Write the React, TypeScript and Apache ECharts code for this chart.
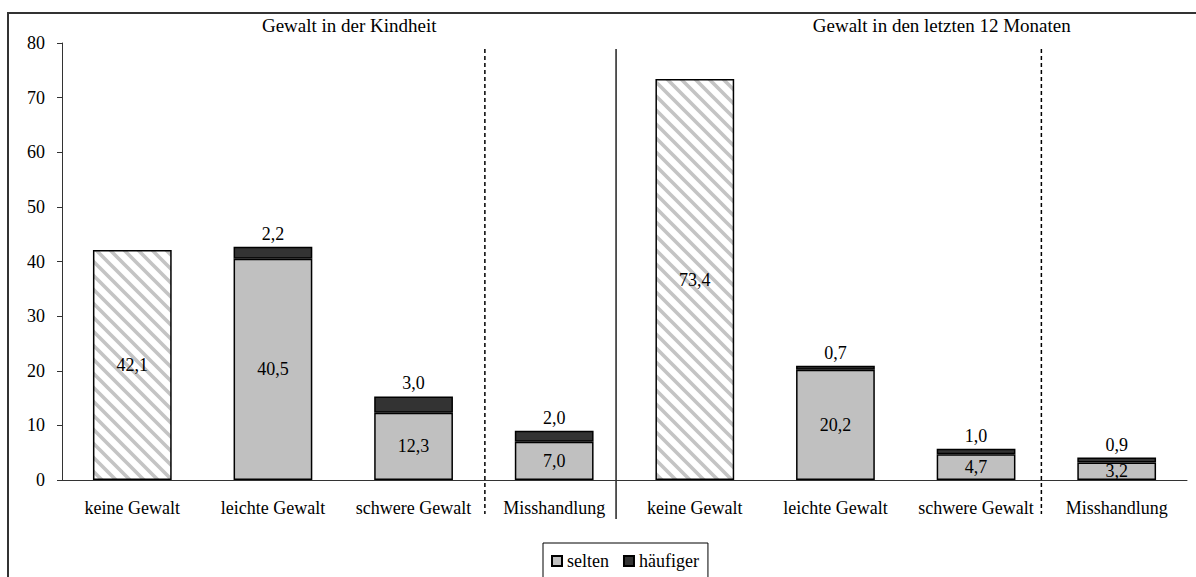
import React, { useEffect, useRef } from "react";
import * as echarts from "echarts";

const categories = [
  "keine Gewalt", "leichte Gewalt", "schwere Gewalt", "Misshandlung",
  "keine Gewalt", "leichte Gewalt", "schwere Gewalt", "Misshandlung",
];
const keineValues = [42.1, "-", "-", "-", 73.4, "-", "-", "-"];
const seltenValues = ["-", 40.5, 12.3, 7.0, "-", 20.2, 4.7, 3.2];
const haeufigerValues = ["-", 2.2, 3.0, 2.0, "-", 0.7, 1.0, 0.9];
const sectionTitles = ["Gewalt in der Kindheit", "Gewalt in den letzten 12 Monaten"];
const yTicks = { min: 0, max: 80, interval: 10 };

const FONT = "Liberation Serif";
const FS = 18;

const hatchSvg =
  "data:image/svg+xml;charset=utf-8," +
  encodeURIComponent(
    "<svg xmlns='http://www.w3.org/2000/svg' width='14' height='14'>" +
      "<rect width='14' height='14' fill='white'/>" +
      "<path d='M0,0 L14,14 M-2,12 L2,16 M12,-2 L16,2' stroke='#c4c4c4' stroke-width='3.6'/>" +
      "</svg>"
  );

const fmt = (p: any) => {
  const v = typeof p.value === "number" ? p.value : parseFloat(p.value);
  if (isNaN(v)) return "";
  return v.toFixed(1).replace(".", ",");
};

export default function App() {
  const ref = useRef<HTMLDivElement>(null);
  useEffect(() => {
    if (!ref.current) return;
    const chart = echarts.init(ref.current, null, { renderer: "svg" });
    const labelStyle = { fontFamily: FONT, fontSize: FS, color: "#000" };
    chart.setOption({
      animation: false,
      backgroundColor: "#fff",
      grid: { left: 62, right: 9, top: 43, bottom: 97, containLabel: false },
      legend: {
        data: [
          { name: "selten", icon: "rect" },
          { name: "häufiger", icon: "rect" },
        ],
        left: 543,
        top: 543,
        padding: [9, 9, 10, 8],
        itemWidth: 10,
        itemHeight: 10,
        itemGap: 14,
        borderColor: "#000",
        borderWidth: 1,
        textStyle: { fontFamily: FONT, fontSize: FS, color: "#000" },
      },
      xAxis: {
        type: "category",
        data: categories,
        axisLine: { lineStyle: { color: "#333", width: 1 } },
        axisTick: { show: false },
        axisLabel: { ...labelStyle, margin: 19, interval: 0 },
      },
      yAxis: {
        type: "value",
        min: yTicks.min,
        max: yTicks.max,
        interval: yTicks.interval,
        splitLine: { show: false },
        axisLine: { show: true, lineStyle: { color: "#333", width: 1 } },
        axisTick: { show: true, inside: false, length: 5, lineStyle: { color: "#333" } },
        axisLabel: { ...labelStyle, margin: 17 },
      },
      series: [
        {
          name: "keine",
          type: "bar",
          stack: "a",
          barWidth: "56%",
          data: keineValues,
          itemStyle: {
            color: { image: hatchSvg, repeat: "repeat", imageWidth: 14, imageHeight: 14 },
            borderColor: "#000",
            borderWidth: 1.5,
          },
          label: { show: true, position: "inside", formatter: fmt, ...labelStyle },
        },
        {
          name: "selten",
          type: "bar",
          stack: "a",
          barWidth: "56%",
          data: seltenValues,
          itemStyle: { color: "#c0c0c0", borderColor: "#000", borderWidth: 1.5 },
          label: { show: true, position: "inside", formatter: fmt, ...labelStyle },
        },
        {
          name: "häufiger",
          type: "bar",
          stack: "a",
          barWidth: "56%",
          data: haeufigerValues,
          itemStyle: { color: "#333333", borderColor: "#000", borderWidth: 1.5 },
          label: { show: true, position: "top", distance: 4, formatter: fmt, ...labelStyle },
        },
      ],
    });

    const cx = (i: number) => chart.convertToPixel({ xAxisIndex: 0 }, i) as number;
    const step = cx(1) - cx(0);
    const dash1 = cx(3) - step / 2 + 1;
    const solid = cx(3) + step * 0.44;
    const dash2 = cx(7) - step / 2 - 5;
    const t1 = (cx(0) + cx(3)) / 2 + 6;
    const t2 = (cx(4) + cx(7)) / 2 + 36;

    const titleStyle = (text: string) => ({
      text,
      fontFamily: FONT,
      fontSize: 19,
      fill: "#000",
      align: "center",
      verticalAlign: "middle",
    });

    chart.setOption({
      graphic: [
        {
          type: "rect",
          z: -1,
          silent: true,
          shape: { x: 8, y: 13, width: 1400, height: 800 },
          style: { fill: "none", stroke: "#333", lineWidth: 2 },
        },
        {
          type: "line",
          silent: true,
          shape: { x1: dash1, y1: 49, x2: dash1, y2: 514 },
          style: { stroke: "#000", lineWidth: 1.5, lineDash: [4, 3] },
        },
        {
          type: "line",
          silent: true,
          shape: { x1: dash2, y1: 49, x2: dash2, y2: 514 },
          style: { stroke: "#000", lineWidth: 1.5, lineDash: [4, 3] },
        },
        {
          type: "line",
          silent: true,
          shape: { x1: solid, y1: 49, x2: solid, y2: 519 },
          style: { stroke: "#222", lineWidth: 1.5 },
        },
        { type: "text", x: t1, y: 25, silent: true, style: titleStyle(sectionTitles[0]) },
        { type: "text", x: t2, y: 25, silent: true, style: titleStyle(sectionTitles[1]) },
      ],
    });

    return () => chart.dispose();
  }, []);

  return (
    <div
      ref={ref}
      style={{ position: "fixed", left: 0, top: 0, width: 1196, height: 577, background: "#fff" }}
    />
  );
}
